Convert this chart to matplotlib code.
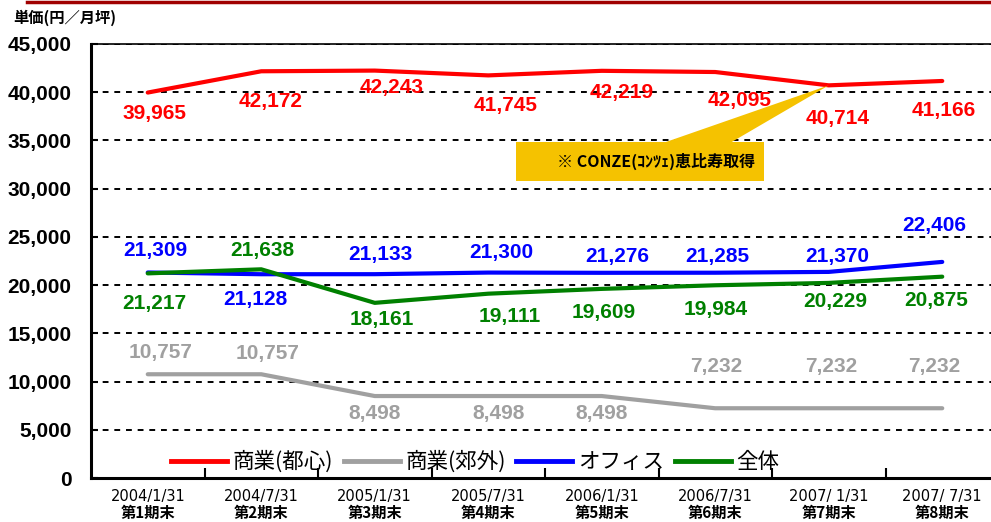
import matplotlib
matplotlib.use("Agg")
import matplotlib.pyplot as plt
import matplotlib.transforms as mtransforms
from matplotlib.patches import Polygon, Rectangle
from matplotlib.lines import Line2D
from matplotlib.font_manager import FontProperties

# データ（単価 円／月坪）
dates = ["2004/1/31", "2004/7/31", "2005/1/31", "2005/7/31",
         "2006/1/31", "2006/7/31", "2007/ 1/31", "2007/ 7/31"]
periods = ["第1期末", "第2期末", "第3期末", "第4期末",
           "第5期末", "第6期末", "第7期末", "第8期末"]
shogyo_toshin = [39965, 42172, 42243, 41745, 42219, 42095, 40714, 41166]
shogyo_kogai = [10757, 10757, 8498, 8498, 8498, 7232, 7232, 7232]
office = [21309, 21128, 21133, 21300, 21276, 21285, 21370, 22406]
zentai = [21217, 21638, 18161, 19111, 19609, 19984, 20229, 20875]
y_ticks = list(range(0, 45001, 5000))

series = [
    ("商業(都心)", shogyo_toshin, "#FF0000"),
    ("商業(郊外)", shogyo_kogai, "#A0A0A0"),
    ("オフィス", office, "#0000FF"),
    ("全体", zentai, "#008000"),
]

# ラベル位置のずれ (右, 下) ピクセル
label_offsets = [
    [(7, 21), (9, 30), (17, 17), (17, 30), (20, 22), (24, 28), (9, 33), (1, 30)],
    [(13, -22), (6, -21), (0, 17), (10, 17), (0, 17), (1, -42), (3, -42), (-8, -42)],
    [(8, -22), (-6, 25), (6, -20), (13, -20), (15, -16), (2, -16), (8, -15), (-8, -36)],
    [(7, 30), (1, -19), (7, 17), (21, 23), (2, 24), (0, 24), (6, 19), (-6, 24)],
]

W, H = 991, 522
fig = plt.figure(figsize=(W / 100, H / 100), dpi=100)
ax = fig.add_axes([91 / W, 44 / H, 908 / W, 434 / H])

num_font = ["Liberation Sans", "Noto Sans CJK JP", "DejaVu Sans"]
jp_font = ["Noto Sans CJK JP", "DejaVu Sans"]

x = list(range(len(dates)))
for (name, vals, col), offs in zip(series, label_offsets):
    ax.plot(x, vals, color=col, lw=3, solid_capstyle="round",
            solid_joinstyle="round", zorder=3)
    for i, v in enumerate(vals):
        dx, dy = offs[i]
        ax.annotate(f"{v:,}", (i, v), xytext=(dx, -dy), textcoords="offset pixels",
                    ha="center", va="center", color=col, fontsize=15,
                    fontweight="bold", family=num_font, zorder=4)

ax.set_xlim(-0.5, 7.5)
ax.set_ylim(0, 45000)

# 軸
ax.spines["right"].set_visible(False)
ax.spines["left"].set_linewidth(2.2)
ax.spines["bottom"].set_linewidth(2.2)
ax.spines["top"].set_linewidth(1.2)

ax.set_yticks(y_ticks)
ax.set_yticklabels([f"{t:,}" for t in y_ticks], fontsize=15, fontweight="bold",
                   family=num_font)
ax.tick_params(axis="y", direction="in", length=5, width=1.5, pad=14)
for t in y_ticks[1:]:
    ax.axhline(t, color="black", lw=1.4, ls=(0, (3, 3)), zorder=1)

ax.set_xticks(x)
ax.set_xticklabels([])
ax.tick_params(axis="x", length=0)
ax.set_xticks([i + 0.5 for i in x[:-1]], minor=True)
ax.tick_params(axis="x", which="minor", direction="in", length=7, width=1.5)

xt = ax.get_xaxis_transform()
for i in x:
    ax.text(i, -0.042, dates[i], transform=xt, ha="center", va="center",
            fontsize=10.5, family=["DejaVu Sans"])
    ax.text(i, -0.08, periods[i], transform=xt, ha="center", va="center",
            fontsize=11, fontweight="bold", family=jp_font)

# 凡例
handles = [Line2D([], [], color=c, lw=3.5) for _, _, c in series]
ax.legend(handles, [n for n, _, _ in series], ncol=4, loc="center",
          bbox_to_anchor=(0.423, 0.037), frameon=False,
          prop=FontProperties(family=jp_font, size=15.5),
          handlelength=2.6, handletextpad=0.25, columnspacing=0.5)

# 単位
fig.text(13 / W, 1 - 18 / H, "単価(円／月坪)", ha="left", va="center",
         fontsize=11, fontweight="bold", family=jp_font)

# 上の赤線
fig.add_artist(Line2D([27 / W, 1], [1 - 1.5 / H, 1 - 1.5 / H], color="#A00000",
                      lw=2.5, transform=fig.transFigure))

# 吹き出し
tip = ax.transData.transform((6, shogyo_toshin[6]))
wedge = Polygon([(663, H - 143), (730, H - 143), tuple(tip)], closed=True,
                facecolor="#F5C200", edgecolor="none",
                transform=mtransforms.IdentityTransform(), zorder=2)
fig.add_artist(wedge)
box = Rectangle((516 / W, 1 - 181 / H), 248 / W, 39 / H, facecolor="#F5C200",
                edgecolor="none", transform=fig.transFigure, zorder=2)
fig.add_artist(box)
fig.text(656 / W, 1 - 161 / H, "※ CONZE(ｺﾝﾂｪ)恵比寿取得", ha="center",
         va="center", fontsize=11.5, fontweight="bold", family=jp_font, zorder=3)

fig.savefig("out.png", dpi=100)
